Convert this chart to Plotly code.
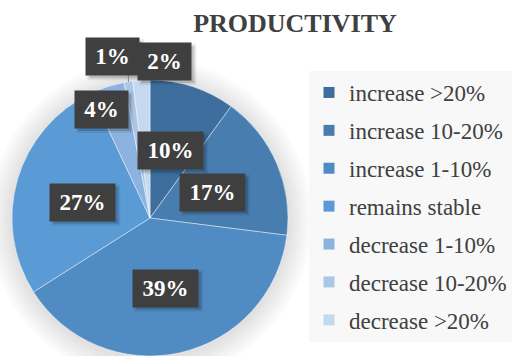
import math
import plotly.graph_objects as go

# Survey answers: change in productivity
categories = ["increase >20%", "increase 10-20%", "increase 1-10%", "remains stable",
              "decrease 1-10%", "decrease 10-20%", "decrease >20%"]
shares = [10, 17, 39, 27, 4, 1, 2]
colors = ["#3e6e9e", "#487db0", "#508bc3", "#5b9bd5", "#8cb3e0", "#abc6e7", "#c6d8ef"]
chart_title = "PRODUCTIVITY"

# Canvas and pie geometry (pixels, origin top-left)
W, H = 518, 356
CX, CY, R = 150, 218, 138

# Data-label placement: (radius fraction, angle nudge in degrees) per slice
label_place = [(0.51, -1), (0.49, 1), (0.52, 0), (0.50, -3), (0.86, -6), (1.20, -4), (1.14, 9)]
leader_line = [False, False, False, False, False, True, False]

SERIF = "Liberation Serif"


def px(x):
    return x / W


def py(y):
    return 1 - y / H


fig = go.Figure()

fig.add_trace(go.Pie(
    labels=categories, values=shares, sort=False,
    direction="clockwise", rotation=0,
    marker=dict(colors=colors, line=dict(color="rgba(255,255,255,0.55)", width=0.8)),
    textinfo="none", hoverinfo="label+percent", showlegend=False,
    domain=dict(x=[px(CX - R), px(CX + R)], y=[max(0, py(CY + R)), py(CY - R)]),
))

# Legend entries (square swatches)
for name, c in zip(categories, colors):
    fig.add_trace(go.Scatter(
        x=[None], y=[None], mode="markers", name=name, legendgroup=name,
        marker=dict(symbol="square", size=11, color=c), hoverinfo="skip",
    ))

# Soft shadow around the pie
shapes = []
for k in range(1, 11):
    rr = R + k * 2.4
    shapes.append(dict(
        type="circle", xref="paper", yref="paper", layer="below",
        x0=px(CX - rr), x1=px(CX + rr), y0=py(CY + 2 + rr), y1=py(CY + 2 - rr),
        fillcolor="rgba(0,0,0,0.011)", line=dict(width=0),
    ))

annotations = []
total = sum(shares)
start = 0.0
BOX_H = 29
PAD = 4
for v, (rf, da), lead in zip(shares, label_place, leader_line):
    sweep = v / total * 360
    mid = start + sweep / 2
    start += sweep
    a = math.radians(mid + da)
    lx = CX + rf * R * math.sin(a)
    ly = CY - rf * R * math.cos(a)
    txt = f"{round(v / total * 100)}%"
    box_w = 57 if len(txt) == 3 else 45
    hw = box_w / 2 + PAD
    hh = BOX_H / 2 + PAD
    # drop shadow under the label box
    for off, grow, alpha in ((3, 2, 0.08), (3, 0, 0.16)):
        shapes.append(dict(
            type="rect", xref="paper", yref="paper", layer="above",
            x0=px(lx - hw + off - grow), x1=px(lx + hw + off + grow),
            y0=py(ly + hh + off + grow), y1=py(ly - hh + off - grow),
            fillcolor=f"rgba(0,0,0,{alpha})", line=dict(width=0),
        ))
    annotations.append(dict(
        x=px(lx), y=py(ly), xref="paper", yref="paper", showarrow=False,
        xanchor="center", yanchor="middle",
        text=f"<b>{txt}</b>", width=box_w, height=BOX_H, borderpad=PAD,
        bgcolor="#3f3f3f",
        font=dict(family=SERIF, size=23, color="#ffffff"),
    ))
    if lead:
        am = math.radians(mid)
        rx = CX + R * math.sin(am)
        ry = CY - R * math.cos(am)
        shapes.append(dict(
            type="line", xref="paper", yref="paper", layer="above",
            x0=px(rx), x1=px(rx), y0=py(ry), y1=py(ly + hh),
            line=dict(color="#7f7f7f", width=1),
        ))

fig.update_layout(
    width=W, height=H,
    margin=dict(l=0, r=0, t=0, b=0, autoexpand=False),
    paper_bgcolor="#ffffff", plot_bgcolor="rgba(0,0,0,0)",
    title=dict(text=f"<b>{chart_title}</b>", x=px(295), xanchor="center",
               y=py(22.5), yanchor="middle",
               font=dict(family=SERIF, size=26, color="#404040")),
    legend=dict(x=px(309), xanchor="left", y=py(71), yanchor="top",
                bgcolor="#f8f8f8", tracegroupgap=5,
                font=dict(family=SERIF, size=23, color="#404040")),
    xaxis=dict(visible=False), yaxis=dict(visible=False),
    shapes=shapes, annotations=annotations,
)

fig.write_html("out.html")
